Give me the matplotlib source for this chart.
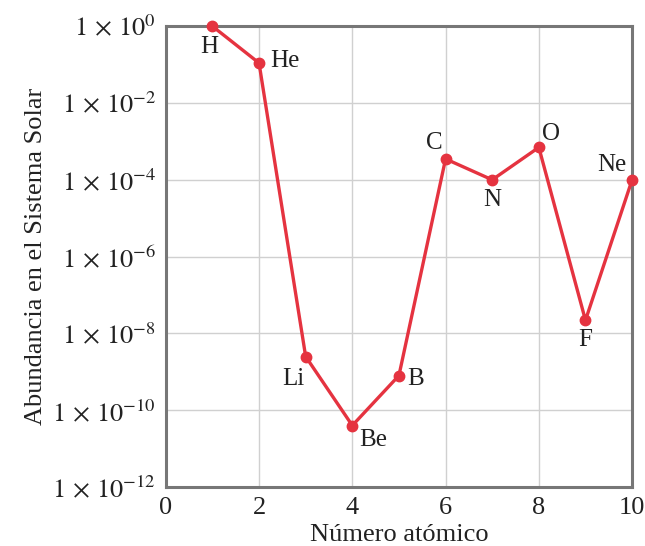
import matplotlib
matplotlib.use("Agg")
import matplotlib.pyplot as plt
import matplotlib.ticker as mticker

elements = ["H", "He", "Li", "Be", "B", "C", "N", "O", "F", "Ne"]
atomic_number = [1, 2, 3, 4, 5, 6, 7, 8, 9, 10]
abundance = [1.0, 1.1e-1, 2.5e-9, 4.0e-11, 8.0e-10, 3.5e-4, 1.0e-4, 7.0e-4, 2.2e-8, 1.0e-4]
x_ticks = [0, 2, 4, 6, 8, 10]
y_ticks = [1e0, 1e-2, 1e-4, 1e-6, 1e-8, 1e-10, 1e-12]
y_tick_labels = [r"$1\,\times\,10^{0}$", r"$1\,\times\,10^{-2}$", r"$1\,\times\,10^{-4}$",
                 r"$1\,\times\,10^{-6}$", r"$1\,\times\,10^{-8}$", r"$1\,\times\,10^{-10}$",
                 r"$1\,\times\,10^{-12}$"]
label_offsets = [(-3, -21), (26, 2), (-12, -22), (21, -14), (17, -3),
                 (-11, 16), (0, -20), (12, 13), (0, -20), (-20, 15)]

plt.rcParams['font.family'] = ['Liberation Serif', 'DejaVu Serif']
plt.rcParams['mathtext.fontset'] = 'stix'

fig = plt.figure(figsize=(6.45, 5.46), dpi=100)
ax = fig.add_axes([0.257, 0.108, 0.723, 0.844])

red = "#e53340"
ax.plot(atomic_number, abundance, color=red, lw=2.4, marker="o", ms=7.5,
        zorder=3, clip_on=False)
for el, x, y, off in zip(elements, atomic_number, abundance, label_offsets):
    ax.annotate(el, (x, y), xytext=off, textcoords="offset pixels",
                ha="center", va="center", fontsize=18, color="#222222")

ax.set_yscale("log")
ax.set_xlim(0, 10)
ax.set_ylim(1e-12, 1e0)
ax.set_xticks(x_ticks)
ax.set_xticklabels([str(t) for t in x_ticks])
ax.set_yticks(y_ticks)
ax.set_yticklabels(y_tick_labels)
ax.yaxis.set_minor_locator(mticker.NullLocator())
ax.tick_params(axis="both", length=0, labelsize=19, colors="#222222", pad=7)
ax.grid(True, color="#d0d0d0", lw=1.0)
ax.set_axisbelow(True)
for s in ax.spines.values():
    s.set_color("#777777")
    s.set_linewidth(2.2)

ax.set_xlabel("Número atómico", fontsize=19, color="#222222", labelpad=4)
ax.set_ylabel("Abundancia en el Sistema Solar", fontsize=19, color="#222222", labelpad=4)

fig.savefig("out.png", dpi=100)
